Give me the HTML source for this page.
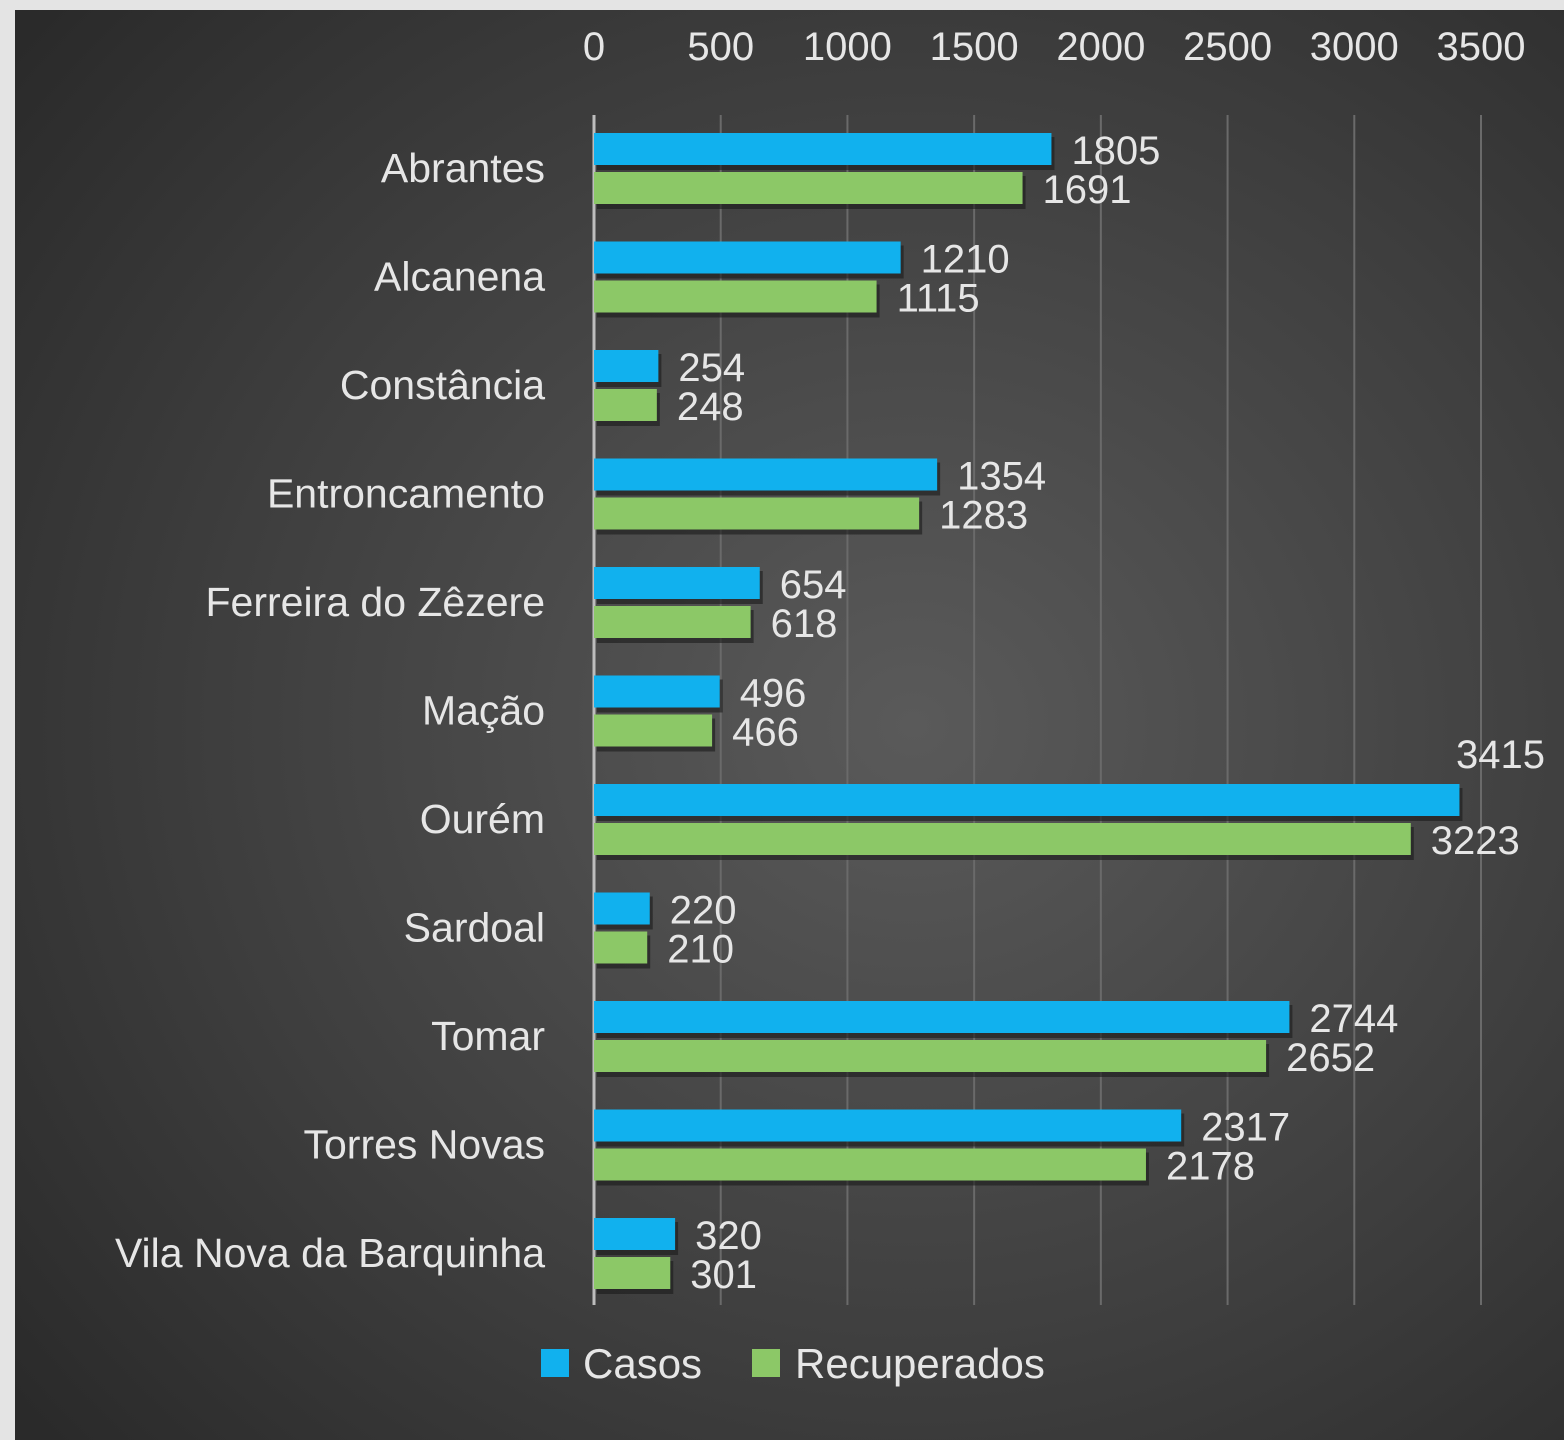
<!DOCTYPE html>
<html><head><meta charset="utf-8"><style>
html,body{margin:0;padding:0;background:#e4e4e4;}
svg{display:block;font-family:"Liberation Sans",sans-serif;}
</style></head><body>
<svg width="1564" height="1440" viewBox="0 0 1564 1440">
<defs>
<radialGradient id="bg" cx="0.58" cy="0.5" r="0.75">
<stop offset="0" stop-color="#5a5a5a"/><stop offset="0.6" stop-color="#3e3e3e"/><stop offset="1" stop-color="#2a2a2a"/>
</radialGradient>
</defs>
<rect x="0" y="0" width="1564" height="1440" fill="#e4e4e4"/>
<rect x="15" y="10" width="1549" height="1430" fill="url(#bg)"/>
<g id="grid"></g><g id="bars"></g><g id="labels"></g>
<g>
<rect x="541" y="1349" width="28" height="28" fill="#11b1ee"/>
<text x="583" y="1378" font-size="42" fill="#e6e6e6">Casos</text>
<rect x="752" y="1349" width="28" height="28" fill="#8cc867"/>
<text x="795" y="1378" font-size="42" fill="#e6e6e6">Recuperados</text>
</g>
</svg>
<script>
const categories=["Abrantes","Alcanena","Constância","Entroncamento","Ferreira do Zêzere","Mação","Ourém","Sardoal","Tomar","Torres Novas","Vila Nova da Barquinha"];
const casos=[1805,1210,254,1354,654,496,3415,220,2744,2317,320];
const recuperados=[1691,1115,248,1283,618,466,3223,210,2652,2178,301];
const ticks=[0,500,1000,1500,2000,2500,3000,3500];
const NS="http://www.w3.org/2000/svg";
const x0=594,x1=1481,maxV=3500,plotTop=115,plotBottom=1305,rowH=108.5,firstC=168;
const xs=v=>x0+(x1-x0)*v/maxV;
const ys=i=>firstC+i*rowH;
function mk(t,a,p){const e=document.createElementNS(NS,t);for(const k in a)e.setAttribute(k,a[k]);p.appendChild(e);return e;}
const gridG=document.getElementById('grid'),barsG=document.getElementById('bars'),labelsG=document.getElementById('labels');
ticks.forEach(t=>{
 const l=mk('line',{x1:xs(t),x2:xs(t),y1:plotTop,y2:plotBottom,stroke:t===0?'#bdbdbd':'#6a6a6a','stroke-width':t===0?3:2},gridG);
 
 
 const tx=mk('text',{x:xs(t),y:60,'font-size':40,fill:'#e6e6e6','text-anchor':'middle'},labelsG);
 tx.textContent=t;
 
 
});
categories.forEach((c,i)=>{
 const cy=ys(i);
 const lab=mk('text',{x:545,y:cy+14,'font-size':41,fill:'#e6e6e6','text-anchor':'end'},labelsG);
 lab.textContent=c;
 
 
 [[casos,'#11b1ee',-35,'casos'],[recuperados,'#8cc867',4,'recuperados']].forEach(([arr,col,off,nm])=>{
  const v=arr[i],w=xs(v)-x0;
  const sh=mk('rect',{x:x0+3,y:cy+off+4,width:w,height:33,fill:'#1a1a1a',opacity:0.6},barsG);
  
  
  const r=mk('rect',{x:x0,y:cy+off,width:w,height:32,fill:col},barsG);
  
  
  let tx=xs(v)+20,ty=cy+off+31,anchor='start';
  if(xs(v)+110>1540){anchor='end';tx=1545;ty=nm==='casos'?cy+off-16:cy+off+74;}
  const t=mk('text',{x:tx,y:ty,'font-size':40,fill:'#e6e6e6','text-anchor':anchor},labelsG);
  t.textContent=v;
  
  
 });
});
</script>
</body></html>
